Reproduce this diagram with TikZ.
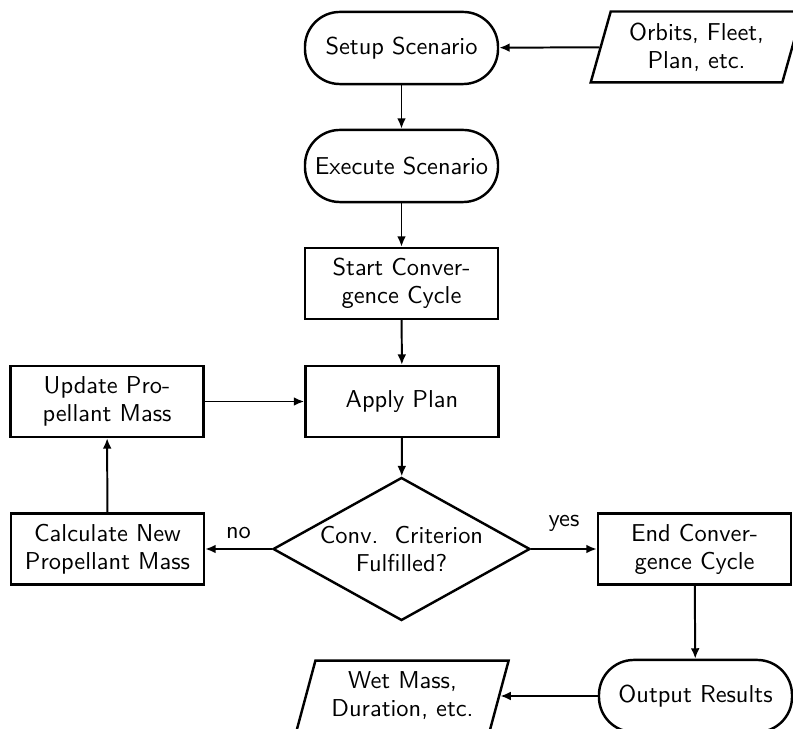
\documentclass[tikz,border=0pt]{standalone}
\usetikzlibrary{shapes.geometric,arrows.meta}
\begin{document}
\begin{tikzpicture}[x=0.43pt,y=-0.43pt,
  font=\sffamily\fontsize{10.5}{12}\selectfont,
  every node/.style={line width=1.05pt, align=center, inner sep=1pt},
  stadium/.style={draw, rectangle, rounded corners=15pt, minimum width=83pt, minimum height=31pt},
  procbox/.style={draw, rectangle, minimum width=83pt, minimum height=30.5pt},
  iobox/.style={draw, trapezium, trapezium left angle=72, trapezium right angle=108,
     trapezium stretches=true, minimum width=91.5pt, minimum height=30.5pt, inner sep=0pt},
  decision/.style={draw, diamond, shape aspect=1.8, inner sep=0pt, minimum width=110.5pt, minimum height=61.5pt},
  conn/.style={line width=0.85pt, -{Latex[length=4.5pt,width=3.8pt]}}
]
\useasboundingbox (0,0) rectangle (793,729);
\node[stadium] (setup) at (401.5,48) {Setup Scenario};
\node[iobox] (input) at (696.5,47) {Orbits, Fleet,\\Plan, etc.};
\node[stadium] (exec) at (401.5,166) {Execute Scenario};
\node[procbox] (start) at (401.5,283.5) {Start Conver-\\gence Cycle};
\node[procbox] (apply) at (402,401.5) {Apply Plan};
\node[procbox] (update) at (107,401.5) {Update Pro-\\pellant Mass};
\node[decision] (crit) at (401.5,549) {Conv.\ \ Criterion\\Fulfilled?};
\node[procbox] (calc) at (107.5,549) {Calculate New\\Propellant Mass};
\node[procbox] (endc) at (694.5,549) {End Conver-\\gence Cycle};
\node[stadium] (out) at (695.5,696) {Output Results};
\node[iobox] (wet) at (402.5,696) {Wet Mass,\\Duration, etc.};

\draw[conn] (input) -- (setup);
\draw[conn] (setup) -- (exec);
\draw[conn] (exec) -- (start);
\draw[conn] (start) -- (apply);
\draw[conn] (apply) -- (crit);
\draw[conn] (crit) -- node[above=3pt] {no} (calc);
\draw[conn] (crit) -- node[above=6pt] {yes} (endc);
\draw[conn] (calc) -- (update);
\draw[conn] (update) -- (apply);
\draw[conn] (endc) -- (out);
\draw[conn] (out) -- (wet);
\end{tikzpicture}
\end{document}
